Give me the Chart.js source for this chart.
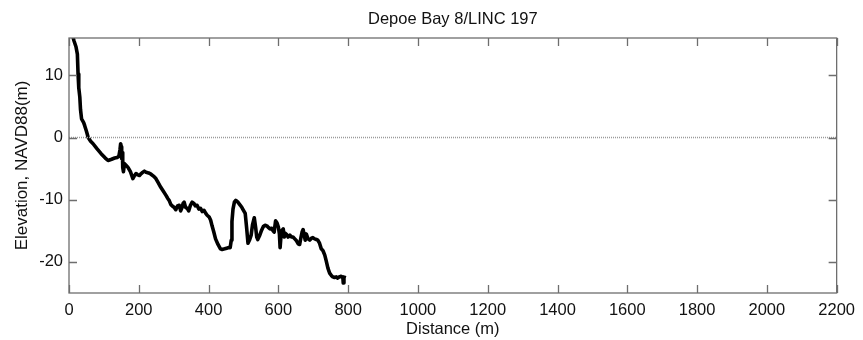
<!DOCTYPE html>
<html>
<head>
<meta charset="utf-8">
<script src="https://cdn.jsdelivr.net/npm/chart.js@4/dist/chart.umd.min.js"></script>
<style>
  html, body { margin: 0; padding: 0; background: #fff; }
  #wrap { width: 863px; height: 340px; }
</style>
</head>
<body>
<div id="wrap"><canvas id="perfil"></canvas></div>
<script>
// --- Perfil de playa: distancia (m) vs elevación NAVD88 (m) ---
const distance = [10, 14, 20, 24, 26, 28, 31, 33, 36, 42, 45, 50, 55, 62, 69, 80, 92, 104, 112, 122,
  131, 138, 143, 146, 148, 150, 151, 153, 154, 156, 159, 164, 169, 176, 183, 187, 192, 197, 202, 207,
  211, 216, 221, 228, 235, 242, 249, 256, 263, 270, 278, 283, 287, 292, 296, 301, 306, 311, 316, 320,
  323, 327, 330, 334, 339, 343, 348, 353, 358, 362, 367, 372, 377, 382, 387, 392, 396, 402, 406, 410,
  415, 420, 427, 434, 439, 446, 452, 458, 462, 465, 467, 470, 474, 478, 484, 491, 496, 500, 505, 509,
  513, 518, 522, 526, 531, 535, 538, 541, 546, 552, 557, 562, 567, 572, 576, 581, 585, 588, 592, 596,
  600, 603, 605, 608, 611, 614, 617, 620, 624, 628, 633, 638, 642, 647, 652, 657, 661, 665, 668, 671,
  674, 677, 680, 685, 690, 695, 699, 704, 709, 713, 718, 723, 728, 733, 737, 742, 747, 752, 756, 761,
  766, 770, 775, 780, 785, 786, 788, 790];
const elevation = [16.5, 15.6, 14.6, 13.4, 10.2, 8, 6.5, 4.5, 3.0, 2.4, 1.9, 1.0, 0, -0.6, -1.0, -1.8, -2.6, -3.3, -3.7, -3.5,
  -3.3, -3.2, -3.0, -2.0, -1.0, -1.5, -3.4, -2.4, -4.8, -5.5, -4.2, -4.5, -4.8, -5.5, -6.6, -6.2, -5.8, -6.0, -6.1, -5.8,
  -5.6, -5.4, -5.6, -5.7, -5.9, -6.2, -6.6, -7.3, -8.0, -8.6, -9.3, -9.8, -10.1, -10.8, -11.0, -11.2, -11.6, -11.0, -10.9, -11.8,
  -11.4, -10.6, -10.4, -11.2, -11.4, -11.8, -10.9, -10.4, -10.6, -11.0, -10.9, -11.5, -11.4, -11.9, -11.7, -12.2, -12.5, -12.8, -13.3, -14.2,
  -15.2, -16.3, -17.2, -17.9, -18.0, -17.9, -17.8, -17.7, -17.7, -16.5, -13.5, -11.5, -10.4, -10.1, -10.4, -10.9, -11.3, -11.7, -12.2, -14.5,
  -17.0, -16.4, -15.7, -14.0, -12.9, -14.5, -16.0, -16.4, -15.8, -14.9, -14.3, -14.1, -14.2, -14.5, -14.7, -14.6, -15.0, -15.2, -13.4, -13.7,
  -14.4, -15.5, -17.7, -15.5, -14.9, -14.7, -16.0, -15.4, -15.6, -16.0, -15.7, -16.0, -16.0, -16.3, -16.6, -17.1, -17.2, -16.0, -15.2, -14.8,
  -15.7, -16.5, -15.5, -16.3, -16.5, -16.2, -16.1, -16.3, -16.4, -16.5, -17.0, -17.9, -18.2, -18.9, -19.8, -21.0, -21.8, -22.2, -22.4, -22.5,
  -22.4, -22.6, -22.4, -22.3, -22.6, -23.4, -22.6, -22.2];

const xTicks = [0, 200, 400, 600, 800, 1000, 1200, 1400, 1600, 1800, 2000, 2200];
const yTicks = [-20, -10, 0, 10];
const xRange = [0, 2200];
const yRange = [-25, 16];

const tituloGrafica = 'Depoe Bay 8/LINC 197';
const fuente = '"Liberation Sans", Arial, sans-serif';

// Título centrado sobre el área de la gráfica
const tituloPlugin = {
  id: 'titulo',
  afterDraw(chart) {
    const { ctx, chartArea } = chart;
    ctx.save();
    ctx.font = '16.5px ' + fuente;
    ctx.fillStyle = '#111';
    ctx.textAlign = 'center';
    ctx.textBaseline = 'middle';
    ctx.fillText(tituloGrafica, (chartArea.left + chartArea.right) / 2, 19);
    ctx.restore();
  }
};

// Marco tipo MATLAB con marcas hacia adentro en los cuatro lados
const marcoPlugin = {
  id: 'marco',
  afterDatasetsDraw(chart) {
    const { ctx, chartArea: a, scales } = chart;
    const largo = 8;
    ctx.save();
    ctx.strokeStyle = '#6e6e6e';
    ctx.lineWidth = 1.3;
    ctx.strokeRect(a.left, a.top, a.right - a.left, a.bottom - a.top);
    ctx.beginPath();
    scales.x.ticks.forEach(t => {
      const px = Math.round(scales.x.getPixelForValue(t.value)) + 0.5;
      ctx.moveTo(px, a.bottom); ctx.lineTo(px, a.bottom - largo);
      ctx.moveTo(px, a.top); ctx.lineTo(px, a.top + largo);
    });
    scales.y.ticks.forEach(t => {
      const py = Math.round(scales.y.getPixelForValue(t.value)) + 0.5;
      ctx.moveTo(a.left, py); ctx.lineTo(a.left + largo, py);
      ctx.moveTo(a.right, py); ctx.lineTo(a.right - largo, py);
    });
    ctx.stroke();
    ctx.restore();
  }
};

const numeroSimple = v => String(v);

new Chart(document.getElementById('perfil'), {
  type: 'line',
  data: {
    datasets: [
      {
        // línea de referencia en 0 m
        data: xRange.map(x => ({ x, y: 0 })),
        borderColor: '#9a9a9a',
        borderWidth: 1.5,
        borderDash: [1, 1],
        pointRadius: 0,
        clip: 0
      },
      {
        data: distance.map((d, i) => ({ x: d, y: elevation[i] })),
        borderColor: '#000',
        borderWidth: 3.6,
        pointRadius: 0,
        tension: 0,
        borderJoinStyle: 'round',
        clip: 0
      }
    ]
  },
  plugins: [tituloPlugin, marcoPlugin],
  options: {
    responsive: true,
    maintainAspectRatio: false,
    animation: false,
    layout: { padding: { top: 38, right: 20, bottom: 0, left: 0 } },
    plugins: { legend: { display: false }, tooltip: { enabled: false }, title: { display: false } },
    scales: {
      x: {
        type: 'linear',
        min: xRange[0], max: xRange[1],
        afterBuildTicks: s => { s.ticks = xTicks.map(v => ({ value: v })); },
        afterFit: s => { s.height = 47; },
        grid: { display: false, drawTicks: false },
        border: { display: false },
        ticks: { color: '#111', font: { family: fuente, size: 16.5 }, padding: 8, maxRotation: 0, autoSkip: false, callback: numeroSimple },
        title: { display: true, text: 'Distance (m)', color: '#111', font: { family: fuente, size: 16.5 }, padding: { top: 0, bottom: 1 } }
      },
      y: {
        type: 'linear',
        min: yRange[0], max: yRange[1],
        afterBuildTicks: s => { s.ticks = yTicks.map(v => ({ value: v })); },
        afterFit: s => { s.width = 69; },
        grid: { display: false, drawTicks: false },
        border: { display: false },
        ticks: { color: '#111', font: { family: fuente, size: 16.5 }, padding: 6, callback: numeroSimple },
        title: { display: true, text: 'Elevation, NAVD88(m)', color: '#111', font: { family: fuente, size: 17 }, padding: { top: 12, bottom: 0 } }
      }
    }
  }
});
</script>
</body>
</html>
